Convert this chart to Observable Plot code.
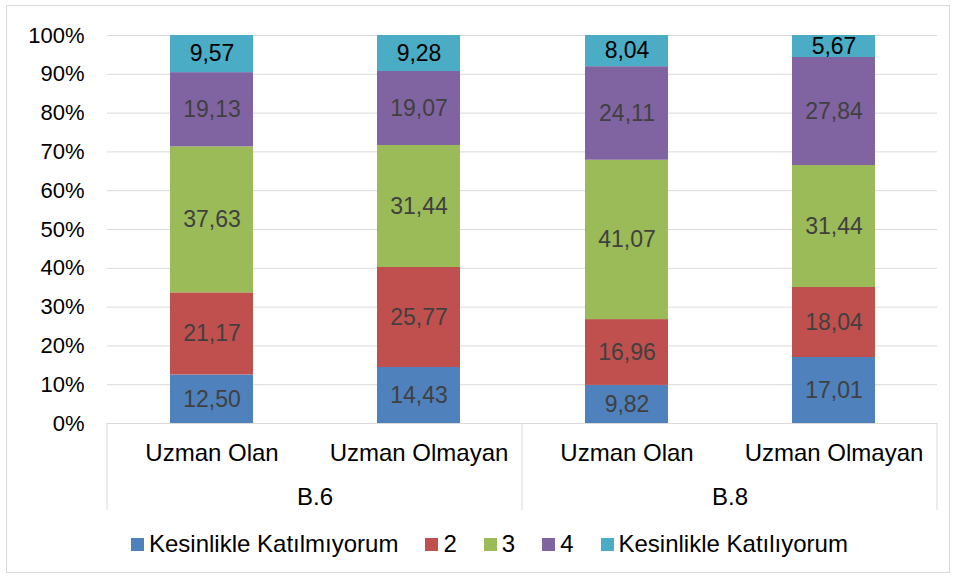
<!DOCTYPE html>
<html>
<head>
<meta charset="utf-8">
<script src="https://cdn.jsdelivr.net/npm/d3@7"></script>
<script src="https://cdn.jsdelivr.net/npm/@observablehq/plot@0.6"></script>
<style>
  body { margin: 0; background: #fff; font-family: "Liberation Sans", Arial, sans-serif; }
  #wrap { position: relative; width: 956px; height: 578px; overflow: hidden; background: #fff; }
  #border { position: absolute; left: 6px; top: 5px; width: 944px; height: 568px; border: 1px solid #d9d9d9; box-sizing: border-box; }
  #chart { position: absolute; left: 0; top: 0; }
  #legend { position: absolute; left: 131px; top: 530px; height: 28px; display: flex; align-items: center; gap: 27px; font-size: 24px; line-height: 28px; color: #000; white-space: nowrap; }
  .item { display: flex; align-items: center; }
  .sw { width: 13px; height: 13px; margin-right: 5px; display: inline-block; }
</style>
</head>
<body>
<div id="wrap">
  <div id="border"></div>
  <div id="chart"></div>
  <div id="legend"></div>
</div>
<script>
// ---- data ----
const groupNames = ["B.6", "B.8"];
const categories = ["Uzman Olan", "Uzman Olmayan"];
const levels = ["Kesinlikle Katılmıyorum", "2", "3", "4", "Kesinlikle Katılıyorum"];
const levelColors = ["#4F81BD", "#C0504D", "#9BBB59", "#8064A2", "#4BACC6"];
// bar order: B.6 Uzman Olan, B.6 Uzman Olmayan, B.8 Uzman Olan, B.8 Uzman Olmayan
const barGroups = ["B.6", "B.6", "B.8", "B.8"];
const barCategories = ["Uzman Olan", "Uzman Olmayan", "Uzman Olan", "Uzman Olmayan"];
const level1 = [12.50, 14.43, 9.82, 17.01];
const level2 = [21.17, 25.77, 16.96, 18.04];
const level3 = [37.63, 31.44, 41.07, 31.44];
const level4 = [19.13, 19.07, 24.11, 27.84];
const level5 = [9.57, 9.28, 8.04, 5.67];
const yTicks = [0, 0.1, 0.2, 0.3, 0.4, 0.5, 0.6, 0.7, 0.8, 0.9, 1];

const levelValues = [level1, level2, level3, level4, level5];
const data = [];
barGroups.forEach((g, i) => {
  levels.forEach((lv, j) => {
    data.push({group: g, cat: barCategories[i], level: lv, value: levelValues[j][i]});
  });
});

const fmt = v => v.toFixed(2).replace(".", ",");
const lastLevel = levels[levels.length - 1];

const plot = Plot.plot({
  width: 956,
  height: 523,
  marginLeft: 106,
  marginRight: 19,
  marginTop: 35,
  marginBottom: 100,
  style: {fontFamily: "'Liberation Sans', Arial, sans-serif", color: "#000", background: "transparent", overflow: "visible"},
  fx: {domain: groupNames, paddingInner: 0, paddingOuter: 0, label: null},
  x: {domain: categories, paddingInner: 0.6, paddingOuter: 0.3, label: null},
  y: {domain: [0, 1], label: null},
  color: {domain: levels, range: levelColors},
  marks: [
    Plot.gridY({ticks: yTicks, stroke: "#d9d9d9", strokeOpacity: 1, strokeWidth: 1}),
    Plot.barY(data, Plot.stackY({
      fx: "group", x: "cat", y: "value", fill: "level", order: levels, offset: "normalize"
    })),
    Plot.text(data, Plot.stackY({
      fx: "group", x: "cat", y: "value", z: "level", order: levels, offset: "normalize",
      text: d => fmt(d.value),
      fill: d => d.level === lastLevel ? "#000000" : "#404040",
      fontSize: 23
    })),
    Plot.axisY({ticks: yTicks, tickFormat: d => Math.round(d * 100) + "%", tickSize: 0, tickPadding: 23, fontSize: 22, label: null}),
    Plot.axisX({tickSize: 0, tickPadding: 20, fontSize: 24, label: null}),
    Plot.axisFx({anchor: "bottom", tickSize: 0, tickPadding: 64, fontSize: 24, label: null})
  ]
});

document.getElementById("chart").appendChild(plot);

// category-axis separators at facet boundaries, from the library's fx scale
const fx = plot.scale("fx");
const yScale = plot.scale("y");
const bounds = groupNames.map(g => fx.apply(g)).concat([fx.apply(groupNames[groupNames.length - 1]) + fx.bandwidth]);
const y0 = yScale.apply(0);
d3.select(plot).append("g")
  .selectAll("line").data(bounds).join("line")
  .attr("x1", d => d).attr("x2", d => d)
  .attr("y1", y0).attr("y2", y0 + 87)
  .attr("stroke", "#d9d9d9").attr("stroke-width", 1);

// legend
const legend = d3.select("#legend");
levels.forEach((lv, i) => {
  const it = legend.append("div").attr("class", "item");
  it.append("span").attr("class", "sw").style("background", levelColors[i]);
  it.append("span").text(lv);
});
</script>
</body>
</html>
